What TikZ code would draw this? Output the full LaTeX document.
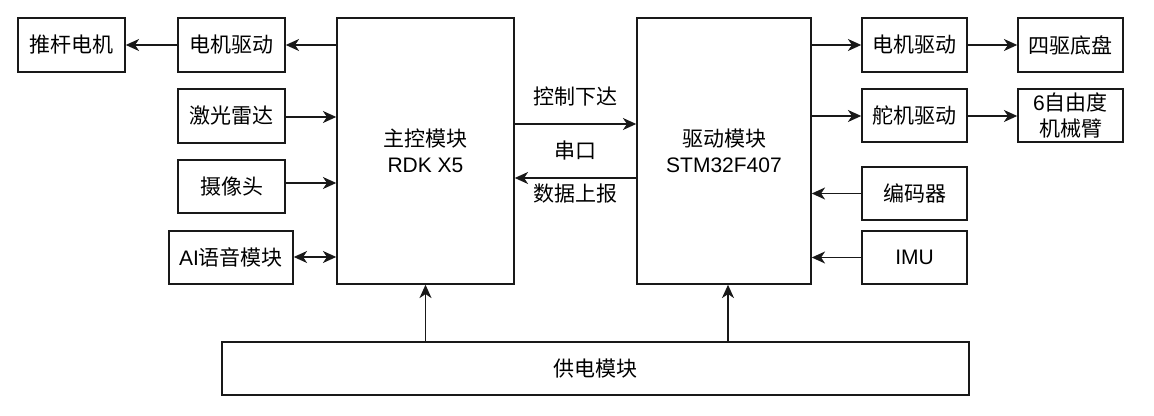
\documentclass[tikz,border=0pt]{standalone}
\usepackage{fontspec}
\setmainfont{Liberation Sans}
\newfontfamily\cjk{Noto Sans CJK SC}
\usetikzlibrary{arrows.meta}
\begin{document}
\begin{tikzpicture}[x=0.75pt,y=-0.75pt,
  box/.style={draw=black!90,line width=1.1pt,inner sep=0pt,align=center,
    font=\fontsize{15.75pt}{19.5pt}\selectfont},
  arr/.style={line width=1.1pt,draw=black!90,-{Stealth[length=10pt,width=9pt,inset=3pt]}},
  darr/.style={line width=1.1pt,draw=black!90,{Stealth[length=10pt,width=9pt,inset=3pt]}-{Stealth[length=10pt,width=9pt,inset=3pt]}},
  lab/.style={font=\fontsize{15.75pt}{19.5pt}\selectfont\cjk,inner sep=0pt}]
\useasboundingbox (0,0) rectangle (1154,416);
% left column
\node[box,minimum width=80.25pt,minimum height=40.5pt] (tg) at (71.5,45) {\cjk 推杆电机};
\node[box,minimum width=80.25pt,minimum height=40.5pt] (md1) at (231.5,45) {\cjk 电机驱动};
\node[box,minimum width=80.25pt,minimum height=40.5pt] (lidar) at (231.5,116) {\cjk 激光雷达};
\node[box,minimum width=80.25pt,minimum height=40pt] (cam) at (231.5,186.5) {\cjk 摄像头};
\node[box,minimum width=93pt,minimum height=40pt] (ai) at (231,257.5) {AI{\cjk 语音模块}};
% main blocks
\node[box,minimum width=132.75pt,minimum height=199.5pt] (main) at (425.5,151) {{\cjk 主控模块}\\RDK X5};
\node[box,minimum width=130.5pt,minimum height=199.5pt] (drv) at (724,151) {{\cjk 驱动模块}\\STM32F407};
% right columns
\node[box,minimum width=78.75pt,minimum height=40.5pt] (md2) at (914.5,45) {\cjk 电机驱动};
\node[box,minimum width=78.75pt,minimum height=40.5pt] (chassis) at (1070.5,45) {\cjk 四驱底盘};
\node[box,minimum width=78.75pt,minimum height=40pt] (servo) at (914.5,115.5) {\cjk 舵机驱动};
\node[box,minimum width=78.75pt,minimum height=40pt] (arm) at (1070.5,115.5) {6{\cjk 自由度}\\{\cjk 机械臂}};
\node[box,minimum width=78.75pt,minimum height=40pt] (enc) at (914.5,193.5) {\cjk 编码器};
\node[box,minimum width=78.75pt,minimum height=40pt] (imu) at (914.5,257.5) {IMU};
% power
\node[box,minimum width=560.25pt,minimum height=40pt] (pwr) at (595.5,368.5) {\cjk 供电模块};
% connectors left
\draw[arr] (main.west |- md1.east) -- (md1.east);
\draw[arr] (md1.west) -- (tg.east);
\draw[arr] (lidar.east |- 0,117) -- (main.west |- 0,117);
\draw[arr] (cam.east |- 0,183) -- (main.west |- 0,183);
\draw[darr] (ai.east |- 0,257) -- (main.west |- 0,257);
% serial
\draw[arr] (main.east |- 0,124) -- node[lab,above=13pt] (l1) {控制下达} (drv.west |- 0,124);
\draw[arr] (drv.west |- 0,178) -- node[lab,above=13pt] (l2) {串口} node[lab,below=4pt] (l3) {数据上报} (main.east |- 0,178);
% right
\draw[arr] (drv.east |- md2.west) -- (md2.west);
\draw[arr] (md2.east) -- (chassis.west);
\draw[arr] (drv.east |- 0,116) -- (servo.west |- 0,116);
\draw[arr] (servo.east |- 0,116) -- (arm.west |- 0,116);
\draw[arr] (enc.west) -- (drv.east |- enc.west);
\draw[arr] (imu.west) -- (drv.east |- imu.west);
% power
\draw[arr] (pwr.north -| main.south) -- (main.south);
\draw[arr] (pwr.north -| 728,0) -- (drv.south -| 728,0);
\end{tikzpicture}
\end{document}
